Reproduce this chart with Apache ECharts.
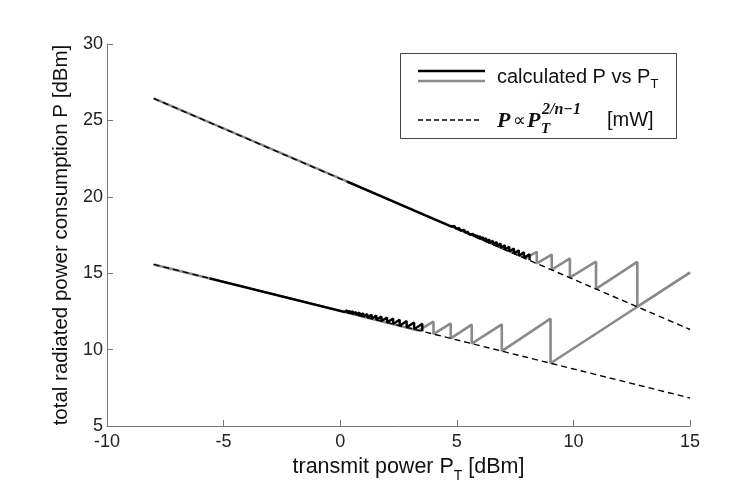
<!DOCTYPE html>
<html><head><meta charset="utf-8">
<script src="https://cdn.jsdelivr.net/npm/echarts@6/dist/echarts.min.js"></script>
<style>html,body{margin:0;padding:0;background:#fff}#c{width:749px;height:488px}</style>
</head><body><div id="c"></div>
<script>
// axes
const xMin = -10, xMax = 15, xStep = 5;
const yMin = 5, yMax = 30, yStep = 5;

// dashed reference lines  P ∝ P_T^(2/n-1)
const upperRefX = [-8, 15];
const upperRefY = [26.44, 11.32];
const lowerRefX = [-8, 15];
const lowerRefY = [15.58, 6.84];

// gray calculated curves (start, sawtooth drops: x / top / bottom, end)
const upperGrayStart = [-8, 26.44];
const upperGrayDropX = [7.95, 8.43, 9.07, 9.85, 10.97, 12.74];
const upperGrayTop = [15.99, 16.40, 16.22, 15.97, 15.77, 15.74];
const upperGrayBottom = [15.99, 15.65, 15.23, 14.71, 13.98, 12.81];
const upperGrayEnd = [15, 15.05];

const lowerGrayStart = [-8, 15.58];
const lowerGrayDropX = [3.36, 4.0, 4.74, 5.64, 6.93, 9.02];
const lowerGrayTop = [11.26, 11.84, 11.72, 11.64, 11.66, 12.03];
const lowerGrayBottom = [11.26, 11.02, 10.74, 10.40, 9.91, 9.11];
const lowerGrayEnd = [15, 15.05];

// black calculated curves (fine steps)
const upperBlackStart = [0.3, 20.99];
const upperBlackDropX = [4.75, 4.82, 4.89, 4.96, 5.03, 5.10, 5.17, 5.24, 5.33, 5.40, 5.47, 5.55, 5.63, 5.71, 5.80, 5.90, 6.01, 6.13, 6.26, 6.40, 6.55, 6.71, 6.88, 7.06, 7.25, 7.45, 7.66, 7.88, 8.12];
const upperBlackTop = [18.06, 18.13, 18.09, 18.04, 18.00, 17.95, 17.90, 17.86, 17.83, 17.75, 17.71, 17.67, 17.62, 17.57, 17.52, 17.47, 17.42, 17.36, 17.29, 17.21, 17.13, 17.04, 16.95, 16.84, 16.74, 16.62, 16.50, 16.37, 16.25];
const upperBlackBottom = [18.06, 18.02, 17.97, 17.93, 17.88, 17.83, 17.79, 17.74, 17.68, 17.64, 17.59, 17.54, 17.49, 17.43, 17.37, 17.31, 17.24, 17.16, 17.07, 16.98, 16.88, 16.78, 16.66, 16.55, 16.42, 16.29, 16.15, 16.01, 15.85];

const lowerBlackStart = [-5.6, 14.67];
const lowerBlackDropX = [0.18, 0.29, 0.41, 0.54, 0.68, 0.83, 0.99, 1.16, 1.35, 1.55, 1.77, 2.01, 2.27, 2.55, 2.85, 3.17, 3.52];
const lowerBlackTop = [12.47, 12.58, 12.55, 12.51, 12.47, 12.43, 12.38, 12.33, 12.29, 12.23, 12.17, 12.11, 12.04, 11.96, 11.87, 11.78, 11.69];
const lowerBlackBottom = [12.47, 12.43, 12.38, 12.33, 12.28, 12.22, 12.16, 12.10, 12.03, 11.95, 11.87, 11.78, 11.68, 11.57, 11.46, 11.34, 11.20];

function saw(start, xs, tops, bottoms, end) {
  const pts = [start.slice()];
  for (let i = 0; i < xs.length; i++) {
    pts.push([xs[i], tops[i]]);
    if (tops[i] !== bottoms[i]) pts.push([xs[i], bottoms[i]]);
  }
  if (end) pts.push(end.slice());
  return pts;
}
function zipXY(xs, ys) { return xs.map((x, i) => [x, ys[i]]); }

const GRAY = '#8a8a8a';
const SANS = 'Liberation Sans, Arial, sans-serif';
const SERIF = 'Liberation Serif, DejaVu Serif, serif';

const chart = echarts.init(document.getElementById('c'), null, {renderer: 'canvas'});
const axisLineStyle = {show: true, onZero: false, lineStyle: {color: '#777', width: 1}};
const axisTickStyle = {show: true, inside: true, length: 6, lineStyle: {color: '#777'}};
chart.setOption({
  animation: false,
  backgroundColor: '#fff',
  grid: {left: 107, right: 59, top: 44, bottom: 51, containLabel: false},
  xAxis: {
    type: 'value', min: xMin, max: xMax, interval: xStep,
    axisLine: axisLineStyle, axisTick: axisTickStyle, splitLine: {show: false},
    axisLabel: {color: '#222', fontSize: 18, fontFamily: SANS, margin: 7},
    name: '{a|transmit power P}{s|T}{a| [dBm]}',
    nameLocation: 'middle', nameGap: 19,
    nameTextStyle: {
      padding: [0, 0, 0, 20],
      rich: {
        a: {fontSize: 21.5, fontFamily: SANS, color: '#111', lineHeight: 23, verticalAlign: 'bottom'},
        s: {fontSize: 14, fontFamily: SANS, color: '#111', lineHeight: 23, verticalAlign: 'bottom', padding: [0, 0, -5, 0]}
      }
    }
  },
  yAxis: {
    type: 'value', min: yMin, max: yMax, interval: yStep,
    axisLine: axisLineStyle, axisTick: axisTickStyle, splitLine: {show: false},
    axisLabel: {color: '#222', fontSize: 18, fontFamily: SANS, margin: 4},
    name: 'total radiated power consumption P [dBm]',
    nameLocation: 'middle', nameGap: 15,
    nameTextStyle: {fontSize: 20.5, fontFamily: SANS, color: '#111'}
  },
  series: [
    {type: 'line', name: 'upper gray', data: saw(upperGrayStart, upperGrayDropX, upperGrayTop, upperGrayBottom, upperGrayEnd),
     symbol: 'none', z: 1, lineStyle: {color: GRAY, width: 2.6}},
    {type: 'line', name: 'lower gray', data: saw(lowerGrayStart, lowerGrayDropX, lowerGrayTop, lowerGrayBottom, lowerGrayEnd),
     symbol: 'none', z: 1, lineStyle: {color: GRAY, width: 2.6}},
    {type: 'line', name: 'upper black', data: saw(upperBlackStart, upperBlackDropX, upperBlackTop, upperBlackBottom, null),
     symbol: 'none', z: 2, lineStyle: {color: '#000', width: 2.4}},
    {type: 'line', name: 'lower black', data: saw(lowerBlackStart, lowerBlackDropX, lowerBlackTop, lowerBlackBottom, null),
     symbol: 'none', z: 2, lineStyle: {color: '#000', width: 2.4}},
    {type: 'line', name: 'upper ref', data: zipXY(upperRefX, upperRefY),
     symbol: 'none', z: 3, lineStyle: {color: '#000', width: 1.4, type: [6, 4]}},
    {type: 'line', name: 'lower ref', data: zipXY(lowerRefX, lowerRefY),
     symbol: 'none', z: 3, lineStyle: {color: '#000', width: 1.4, type: [6, 4]}}
  ],
  graphic: [
    {type: 'rect', shape: {x: 400.5, y: 53.5, width: 276, height: 85}, style: {fill: '#fff', stroke: '#444', lineWidth: 1}, z: 10},
    {type: 'line', shape: {x1: 418, y1: 71, x2: 485, y2: 71}, style: {stroke: '#000', lineWidth: 2.6}, z: 11},
    {type: 'line', shape: {x1: 418, y1: 81, x2: 485, y2: 81}, style: {stroke: GRAY, lineWidth: 2.6}, z: 11},
    {type: 'text', x: 497, y: 76, z: 11, style: {
      text: '{a|calculated P vs P}{s|T}', verticalAlign: 'middle',
      rich: {
        a: {fontSize: 20, fontFamily: SANS, fill: '#111', lineHeight: 22, verticalAlign: 'bottom'},
        s: {fontSize: 13, fontFamily: SANS, fill: '#111', lineHeight: 22, verticalAlign: 'bottom', padding: [0, 0, -4, 0]}
      }}},
    {type: 'line', shape: {x1: 418, y1: 120, x2: 482, y2: 120}, style: {stroke: '#000', lineWidth: 1.4, lineDash: [5, 3]}, z: 11},
    {type: 'text', x: 497, y: 121, z: 11, style: {text: 'P', font: 'italic bold 22px ' + SERIF, fill: '#111', verticalAlign: 'middle'}},
    {type: 'text', x: 513, y: 121, z: 11, style: {text: '∝', font: '18px DejaVu Sans', fill: '#111', verticalAlign: 'middle'}},
    {type: 'text', x: 527, y: 121, z: 11, style: {text: 'P', font: 'italic bold 22px ' + SERIF, fill: '#111', verticalAlign: 'middle'}},
    {type: 'text', x: 542, y: 110, z: 11, style: {text: '2/n−1', font: 'italic bold 16px ' + SERIF, fill: '#111', verticalAlign: 'middle'}},
    {type: 'text', x: 541, y: 129, z: 11, style: {text: 'T', font: 'italic bold 15px ' + SERIF, fill: '#111', verticalAlign: 'middle'}},
    {type: 'text', x: 607, y: 120, z: 11, style: {text: '[mW]', font: '20px ' + SANS, fill: '#111', verticalAlign: 'middle'}}
  ]
});
</script></body></html>
